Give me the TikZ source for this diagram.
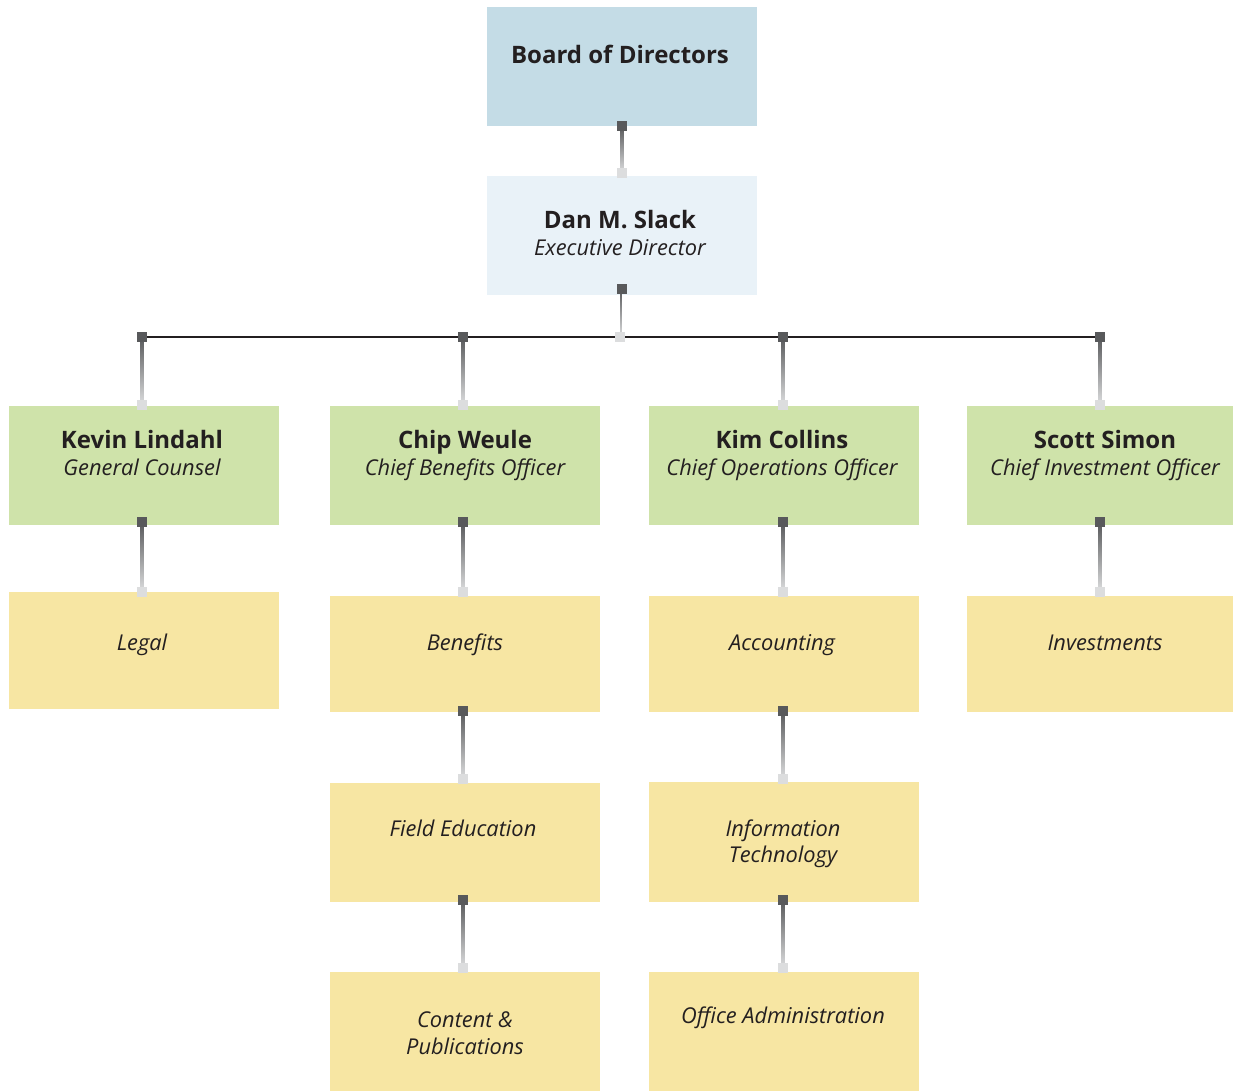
\documentclass[tikz,border=0pt]{standalone}
\usepackage{fontspec}
\setmainfont{Open Sans}
\usetikzlibrary{calc}
\definecolor{boardc}{HTML}{C4DCE6}
\definecolor{execc}{HTML}{E9F2F8}
\definecolor{greenc}{HTML}{CFE3AA}
\definecolor{yellowc}{HTML}{F7E6A3}
\definecolor{txt}{HTML}{231F20}
\definecolor{sqdark}{HTML}{58595B}
\definecolor{sqlight}{HTML}{DCDDDE}
\newcommand\orgconn[2]{%
  \shade[top color=sqdark, bottom color=sqlight] ($#1+(-1.5,0)$) rectangle ($#2+(1.5,0)$);
  \fill[sqdark] ($#1+(-5,-5)$) rectangle ($#1+(5,5)$);
  \fill[sqlight] ($#2+(-5,-5)$) rectangle ($#2+(5,5)$);
}
\newcommand\nm[1]{{\bfseries\fontsize{24}{27}\selectfont\strut #1}}
\newcommand\ti[1]{{\itshape\strut #1}}
\begin{document}
\begin{tikzpicture}[x=1pt,y=-1pt,
  box/.style={minimum width=270pt, minimum height=119pt, inner sep=0pt, anchor=north west, draw=none},
  lab/.style={text=txt, align=center, inner sep=0pt, anchor=north, font=\fontsize{21.8}{27}\selectfont},
  bus/.style={draw=txt, line width=2.6pt}]
\useasboundingbox (0,0) rectangle (1233,1091);
\fill[white] (0,0) rectangle (1233,1091);
% boxes
\node[box, fill=boardc] (board) at (487,7) {};
\node[box, fill=execc] (dan) at (487,176) {};
\node[box, fill=greenc] (kevin) at (9,406) {};
\node[box, fill=greenc] (chip) at (330,406) {};
\node[box, fill=greenc] (kim) at (649,406) {};
\node[box, fill=greenc] (scott) at (967,406) {};
\node[box, fill=yellowc, minimum height=117pt] (legal) at (9,592) {};
\node[box, fill=yellowc, minimum height=116pt] (benefits) at (330,596) {};
\node[box, fill=yellowc, minimum height=116pt] (accounting) at (649,596) {};
\node[box, fill=yellowc, minimum height=116pt] (investments) at (967,596) {};
\node[box, fill=yellowc] (field) at (330,783) {};
\node[box, fill=yellowc, minimum height=120pt] (infotech) at (649,782) {};
\node[box, fill=yellowc, minimum height=120pt] (content) at (330,972) {};
\node[box, fill=yellowc, minimum height=120pt] (office) at (649,972) {};
% texts
\node[lab, font=\fontsize{24}{28}\selectfont] (boardT) at (620,43.4) {\bfseries\strut Board of Directors};
\node[lab] (danT) at (620,209) {\nm{Dan M. Slack}\\\ti{Executive Director}};
\node[lab] (kevinT) at (142,429.1) {\nm{Kevin Lindahl}\\\ti{General Counsel}};
\node[lab] (chipT) at (465,429.1) {\nm{Chip Weule}\\\ti{Chief Benefits Officer}};
\node[lab] (kimT) at (782,429.1) {\nm{Kim Collins}\\\ti{Chief Operations Officer}};
\node[lab] (scottT) at (1105,429.1) {\nm{Scott Simon}\\\ti{Chief Investment Officer}};
\node[lab] (legalT) at (142,631.1) {\ti{Legal}};
\node[lab] (benefitsT) at (465,631.1) {\ti{Benefits}};
\node[lab] (accountingT) at (782,631.1) {\ti{Accounting}};
\node[lab] (investmentsT) at (1105,631.1) {\ti{Investments}};
\node[lab] (fieldT) at (463,817.1) {\ti{Field Education}};
\node[lab, font=\fontsize{21.8}{26}\selectfont] (infotechT) at (783,818.3) {\ti{Information}\\\ti{Technology}};
\node[lab] (contentT) at (465,1008.1) {\ti{Content \&}\\\ti{Publications}};
\node[lab] (officeT) at (783,1004.1) {\ti{Office Administration}};
% bus
\coordinate (bus1) at (142,337);
\coordinate (bus2) at (463,337);
\coordinate (busc) at (620,337);
\coordinate (bus3) at (783,337);
\coordinate (bus4) at (1100,337);
\draw[bus] (bus1) -- (bus4);
% connectors
\orgconn{(board.south)}{([yshift=3pt]dan.north)}
\orgconn{([yshift=6pt]dan.south)}{(busc)}
\orgconn{(bus1)}{([yshift=1pt]bus1 |- kevin.north)}
\orgconn{(bus2)}{([yshift=1pt]bus2 |- chip.north)}
\orgconn{(bus3)}{([yshift=1pt]bus3 |- kim.north)}
\orgconn{(bus4)}{([yshift=1pt]bus4 |- scott.north)}
\orgconn{([yshift=3pt]bus1 |- kevin.south)}{(bus1 |- legal.north)}
\orgconn{([yshift=3pt]bus2 |- chip.south)}{([yshift=4pt]bus2 |- benefits.north)}
\orgconn{([yshift=3pt]bus3 |- kim.south)}{([yshift=4pt]bus3 |- accounting.north)}
\orgconn{([yshift=3pt]bus4 |- scott.south)}{([yshift=4pt]bus4 |- investments.north)}
\orgconn{([yshift=1pt]bus2 |- benefits.south)}{([yshift=4pt]bus2 |- field.north)}
\orgconn{([yshift=1pt]bus3 |- accounting.south)}{([yshift=3pt]bus3 |- infotech.north)}
\orgconn{([yshift=2pt]bus2 |- field.south)}{([yshift=4pt]bus2 |- content.north)}
\orgconn{([yshift=2pt]bus3 |- infotech.south)}{([yshift=4pt]bus3 |- office.north)}
\end{tikzpicture}
\end{document}
